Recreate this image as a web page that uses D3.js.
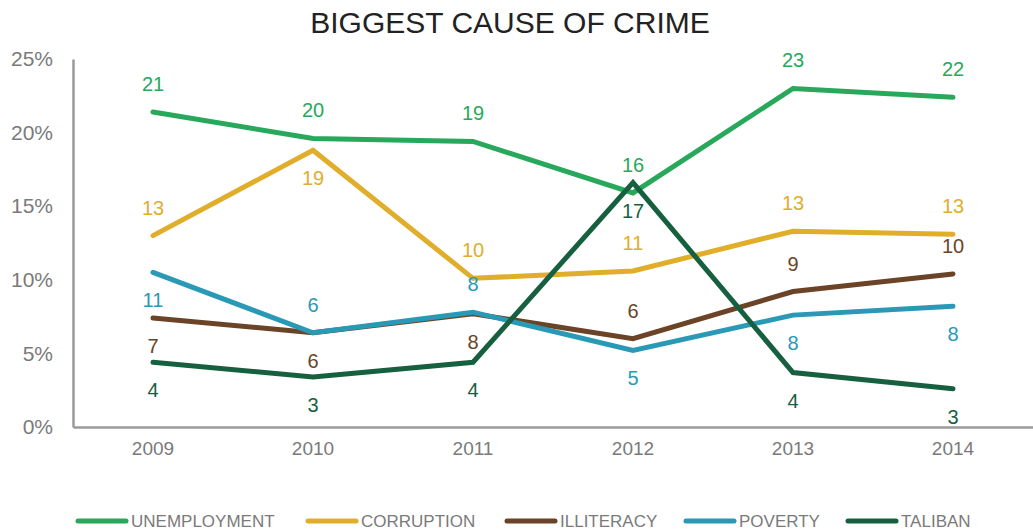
<!DOCTYPE html>
<html>
<head>
<meta charset="utf-8">
<script src="https://cdn.jsdelivr.net/npm/d3@7"></script>
<style>
  html, body { margin: 0; padding: 0; background: #fff; }
  svg { display: block; font-family: "Liberation Sans", Arial, sans-serif; }
</style>
</head>
<body>
<svg id="chart" width="1033" height="532"></svg>
<script>
// Survey years
const years = ["2009", "2010", "2011", "2012", "2013", "2014"];

// Share of respondents naming each cause (%)
const unemployment = [21.4, 19.6, 19.4, 15.9, 23.0, 22.4];
const corruption   = [13.0, 18.8, 10.1, 10.6, 13.3, 13.1];
const illiteracy   = [7.4, 6.4, 7.7, 6.0, 9.2, 10.4];
const poverty      = [10.5, 6.4, 7.8, 5.2, 7.6, 8.2];
const taliban      = [4.4, 3.4, 4.4, 16.6, 3.7, 2.6];

const seriesNames  = ["UNEMPLOYMENT", "CORRUPTION", "ILLITERACY", "POVERTY", "TALIBAN"];
const seriesValues = [unemployment, corruption, illiteracy, poverty, taliban];
const seriesColors = ["#27a85a", "#e0ae2a", "#6b4327", "#2999b6", "#16603f"];

// Which side of the point each value label sits on (1 = above, -1 = below)
const labelSide = [
  [1, 1, 1, 1, 1, 1],
  [1, -1, 1, 1, 1, 1],
  [-1, -1, -1, 1, 1, 1],
  [-1, 1, 1, -1, -1, -1],
  [-1, -1, -1, -1, -1, -1]
];

const yTicks = [0, 5, 10, 15, 20, 25];

const svg = d3.select("#chart");
const plotLeft = 73, plotRight = 1033, plotTop = 59, plotBottom = 427;

const x = d3.scaleBand().domain(years).range([plotLeft, plotRight]).padding(0);
const y = d3.scaleLinear().domain([0, 25]).range([plotBottom, plotTop]);
const xc = d => x(d) + x.bandwidth() / 2;

// Title
svg.append("text")
  .attr("x", 510).attr("y", 33)
  .attr("text-anchor", "middle")
  .attr("font-size", 30)
  .attr("fill", "#222")
  .text("BIGGEST CAUSE OF CRIME");

// Y axis
const yAxis = svg.append("g")
  .attr("transform", `translate(${plotLeft},0)`)
  .call(d3.axisLeft(y).tickValues(yTicks).tickSize(0).tickPadding(20).tickFormat(d => d + "%"));
yAxis.select(".domain").attr("stroke", "#9a9a9c").attr("stroke-width", 2.5);
yAxis.selectAll("text").attr("font-size", 21).attr("fill", "#7a7a7a")
  .attr("font-family", "Liberation Sans, Arial, sans-serif");

// X axis
const xAxis = svg.append("g")
  .attr("transform", `translate(0,${plotBottom})`)
  .call(d3.axisBottom(x).tickSize(0).tickPadding(15));
xAxis.select(".domain").attr("stroke", "#9a9a9c").attr("stroke-width", 2.5);
xAxis.selectAll("text").attr("font-size", 19).attr("fill", "#7a7a7a")
  .attr("font-family", "Liberation Sans, Arial, sans-serif");

// Lines
const line = d3.line().x((d, i) => xc(years[i])).y(d => y(d));

seriesValues.forEach((vals, s) => {
  svg.append("path")
    .datum(vals)
    .attr("d", line)
    .attr("fill", "none")
    .attr("stroke", seriesColors[s])
    .attr("stroke-width", 5)
    .attr("stroke-linecap", "round")
    .attr("stroke-linejoin", "miter");
});

// Value labels
seriesValues.forEach((vals, s) => {
  svg.append("g").selectAll("text")
    .data(vals)
    .join("text")
    .attr("x", (d, i) => xc(years[i]))
    .attr("y", (d, i) => y(d) - labelSide[s][i] * 28)
    .attr("dy", "0.35em")
    .attr("text-anchor", "middle")
    .attr("font-size", 20)
    .attr("fill", seriesColors[s])
    .text(d => d3.format(".0f")(d));
});

// Legend
const legendX = [76, 306, 505, 684, 846];
const legend = svg.append("g").attr("transform", "translate(0,521)");
seriesNames.forEach((name, s) => {
  const g = legend.append("g").attr("transform", `translate(${legendX[s]},0)`);
  g.append("line")
    .attr("x1", 2).attr("x2", 50)
    .attr("stroke", seriesColors[s])
    .attr("stroke-width", 5)
    .attr("stroke-linecap", "round");
  g.append("text")
    .attr("x", 55).attr("dy", "0.35em")
    .attr("font-size", 17)
    .attr("fill", "#7a7a7a")
    .text(name);
});
</script>
</body>
</html>
